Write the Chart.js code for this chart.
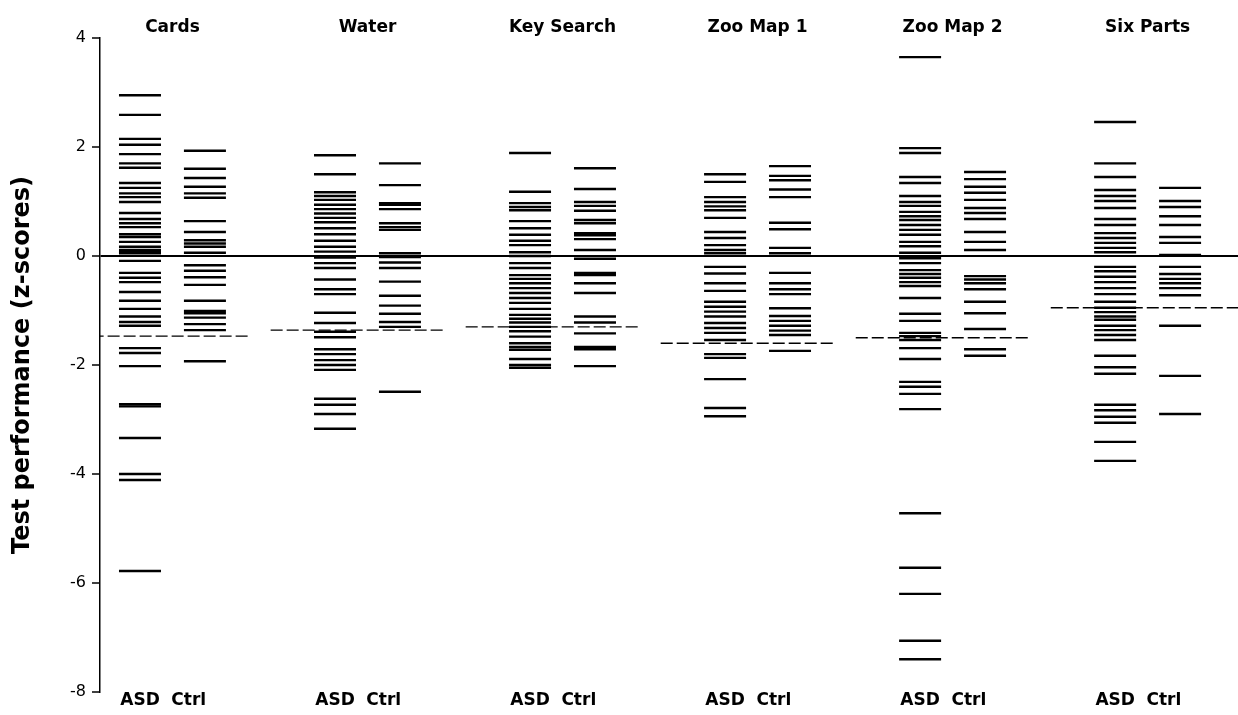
<!DOCTYPE html>
<html>
<head>
<meta charset="utf-8">
<script src="https://cdn.jsdelivr.net/npm/chart.js@4/dist/chart.umd.min.js"></script>
<style>
  html, body { margin: 0; padding: 0; background: #fff; }
</style>
</head>
<body>
<canvas id="chart" width="1238" height="715"></canvas>
<script>
// tasks and groups
const tasks  = ['Cards', 'Water', 'Key Search', 'Zoo Map 1', 'Zoo Map 2', 'Six Parts'];
const groups = ['ASD', 'Ctrl'];
const yTicks = [4, 2, 0, -2, -4, -6, -8];

// individual z-scores per task
const cardsASD  = [2.95, 2.59, 2.15, 2.04, 1.87, 1.70, 1.62, 1.34, 1.25, 1.15, 1.08, 0.99, 0.79, 0.68, 0.60, 0.53, 0.40, 0.35, 0.26, 0.17, 0.11, 0.07, 0.05, -0.09, -0.31, -0.40, -0.48, -0.66, -0.82, -0.97, -1.11, -1.21, -1.28, -1.69, -1.78, -2.02, -2.72, -2.76, -3.34, -4.00, -4.11, -5.78];
const cardsCtrl = [1.93, 1.60, 1.43, 1.27, 1.15, 1.07, 0.64, 0.44, 0.29, 0.23, 0.17, 0.06, -0.17, -0.27, -0.39, -0.53, -0.82, -1.01, -1.05, -1.13, -1.25, -1.36, -1.93];
const waterASD  = [1.85, 1.50, 1.17, 1.10, 1.03, 0.94, 0.86, 0.78, 0.70, 0.62, 0.51, 0.40, 0.28, 0.17, 0.08, -0.03, -0.13, -0.22, -0.43, -0.61, -0.70, -1.04, -1.23, -1.39, -1.49, -1.71, -1.80, -1.91, -2.00, -2.09, -2.62, -2.73, -2.90, -3.17];
const waterCtrl = [1.70, 1.30, 0.97, 0.94, 0.86, 0.60, 0.53, 0.48, 0.05, -0.02, -0.12, -0.22, -0.47, -0.73, -0.91, -1.06, -1.21, -1.30, -2.49];
const keyASD    = [1.89, 1.18, 0.97, 0.90, 0.84, 0.64, 0.51, 0.39, 0.28, 0.20, 0.07, 0.00, -0.13, -0.22, -0.35, -0.42, -0.50, -0.59, -0.68, -0.77, -0.86, -0.97, -1.08, -1.15, -1.22, -1.30, -1.38, -1.48, -1.60, -1.67, -1.72, -1.89, -2.00, -2.05];
const keyCtrl   = [1.61, 1.23, 0.99, 0.92, 0.83, 0.66, 0.60, 0.42, 0.38, 0.31, 0.11, -0.05, -0.31, -0.35, -0.50, -0.68, -1.11, -1.22, -1.42, -1.67, -1.71, -2.02];
const zoo1ASD   = [1.50, 1.36, 1.08, 0.99, 0.91, 0.84, 0.70, 0.44, 0.33, 0.20, 0.11, 0.05, -0.20, -0.32, -0.50, -0.64, -0.84, -0.93, -1.02, -1.11, -1.23, -1.32, -1.41, -1.54, -1.80, -1.87, -2.26, -2.79, -2.94];
const zoo1Ctrl  = [1.65, 1.47, 1.39, 1.22, 1.08, 0.61, 0.49, 0.15, 0.05, -0.31, -0.50, -0.61, -0.70, -0.96, -1.10, -1.19, -1.28, -1.37, -1.45, -1.74];
const zoo2ASD   = [3.65, 1.98, 1.89, 1.45, 1.34, 1.10, 0.99, 0.92, 0.81, 0.73, 0.66, 0.57, 0.48, 0.39, 0.26, 0.18, 0.06, -0.04, -0.13, -0.26, -0.33, -0.40, -0.48, -0.55, -0.77, -1.06, -1.19, -1.41, -1.47, -1.54, -1.69, -1.89, -2.31, -2.40, -2.53, -2.81, -4.72, -5.72, -6.20, -7.06, -7.40];
const zoo2Ctrl  = [1.54, 1.41, 1.27, 1.16, 1.03, 0.88, 0.79, 0.68, 0.44, 0.26, 0.11, -0.37, -0.43, -0.50, -0.61, -0.84, -1.05, -1.34, -1.71, -1.83];
const sixASD    = [2.46, 1.70, 1.45, 1.21, 1.10, 1.01, 0.88, 0.68, 0.57, 0.42, 0.33, 0.24, 0.15, 0.07, -0.20, -0.28, -0.38, -0.48, -0.59, -0.70, -0.84, -0.95, -1.03, -1.11, -1.17, -1.28, -1.36, -1.45, -1.54, -1.83, -2.04, -2.16, -2.73, -2.83, -2.95, -3.06, -3.41, -3.76];
const sixCtrl   = [1.25, 1.01, 0.90, 0.73, 0.57, 0.35, 0.24, 0.02, -0.20, -0.33, -0.42, -0.50, -0.59, -0.72, -1.28, -2.20, -2.90];

// dashed cut-off line per task
const cutoffs = [-1.47, -1.36, -1.30, -1.60, -1.50, -0.95];

const asdScores  = [cardsASD, waterASD, keyASD, zoo1ASD, zoo2ASD, sixASD];
const ctrlScores = [cardsCtrl, waterCtrl, keyCtrl, zoo1Ctrl, zoo2Ctrl, sixCtrl];

const CTRL_OFFSET = 0.333;
const LABEL_OFFSET = 0.25;
const X_MIN = -0.205, X_MAX = 5.63;

const datasets = [];
tasks.forEach((t, i) => {
    [asdScores[i], ctrlScores[i]].forEach((vals, g) => {
        datasets.push({
            type: 'scatter',
            data: vals.map(v => ({ x: i + g * CTRL_OFFSET, y: v })),
            pointStyle: 'line',
            radius: 21,
            hoverRadius: 21,
            borderColor: '#000',
            borderWidth: 2.4,
        });
    });
    const end = i === tasks.length - 1 ? X_MAX : i + 0.56;
    datasets.push({
        type: 'line',
        data: [{ x: i - 0.33, y: cutoffs[i] }, { x: end, y: cutoffs[i] }],
        borderColor: '#000',
        borderWidth: 1.4,
        borderDash: [12, 4],
        pointRadius: 0,
    });
});

const subTicks  = tasks.flatMap((t, i) => [i, i + LABEL_OFFSET]);
const taskTicks = tasks.map((t, i) => i + CTRL_OFFSET / 2);
const boldFont  = { family: 'DejaVu Sans', size: 17, weight: 'bold' };

// keep the plot area at a fixed box: 100..1238 x 38..692
const noPad = axis => { axis.paddingLeft = 0; axis.paddingRight = 0; };

new Chart(document.getElementById('chart'), {
    data: { datasets },
    options: {
        responsive: false,
        animation: false,
        events: [],
        layout: { padding: 0, autoPadding: false },
        plugins: { legend: { display: false }, tooltip: { enabled: false } },
        scales: {
            x: {
                type: 'linear', position: 'bottom', min: X_MIN, max: X_MAX,
                grid: { display: false, drawTicks: false }, border: { display: false },
                afterBuildTicks: axis => { axis.ticks = subTicks.map(v => ({ value: v })); },
                afterFit: axis => { axis.height = 23; noPad(axis); },
                ticks: {
                    autoSkip: false, maxRotation: 0, padding: -2, color: '#000', font: boldFont,
                    callback: (v, idx) => groups[idx % 2],
                },
            },
            xTop: {
                type: 'linear', position: 'top', min: X_MIN, max: X_MAX,
                grid: { display: false, drawTicks: false }, border: { display: false },
                afterBuildTicks: axis => { axis.ticks = taskTicks.map(v => ({ value: v })); },
                afterFit: axis => { axis.height = 38; noPad(axis); },
                ticks: {
                    autoSkip: false, maxRotation: 0, padding: 0, color: '#000', font: boldFont,
                    callback: (v, idx) => tasks[idx],
                },
            },
            y: {
                min: -8, max: 4,
                afterBuildTicks: axis => { axis.ticks = yTicks.map(v => ({ value: v })); },
                afterFit: axis => { axis.width = 100; },
                border: { display: true, color: '#000', width: 1.5 },
                grid: {
                    color: ctx => ctx.tick && ctx.tick.value === 0 ? '#000' : 'rgba(0,0,0,0)',
                    lineWidth: 2,
                    tickColor: '#000',
                    tickLength: 8,
                    tickWidth: 1.5,
                },
                ticks: { color: '#000', padding: 6, font: { family: 'DejaVu Sans', size: 16 } },
                title: {
                    display: true,
                    text: 'Test performance (z-scores)',
                    color: '#000',
                    font: { family: 'DejaVu Sans', size: 24, weight: 'bold' },
                    padding: { top: 8, bottom: 0 },
                },
            },
        },
    },
});
</script>
</body>
</html>
